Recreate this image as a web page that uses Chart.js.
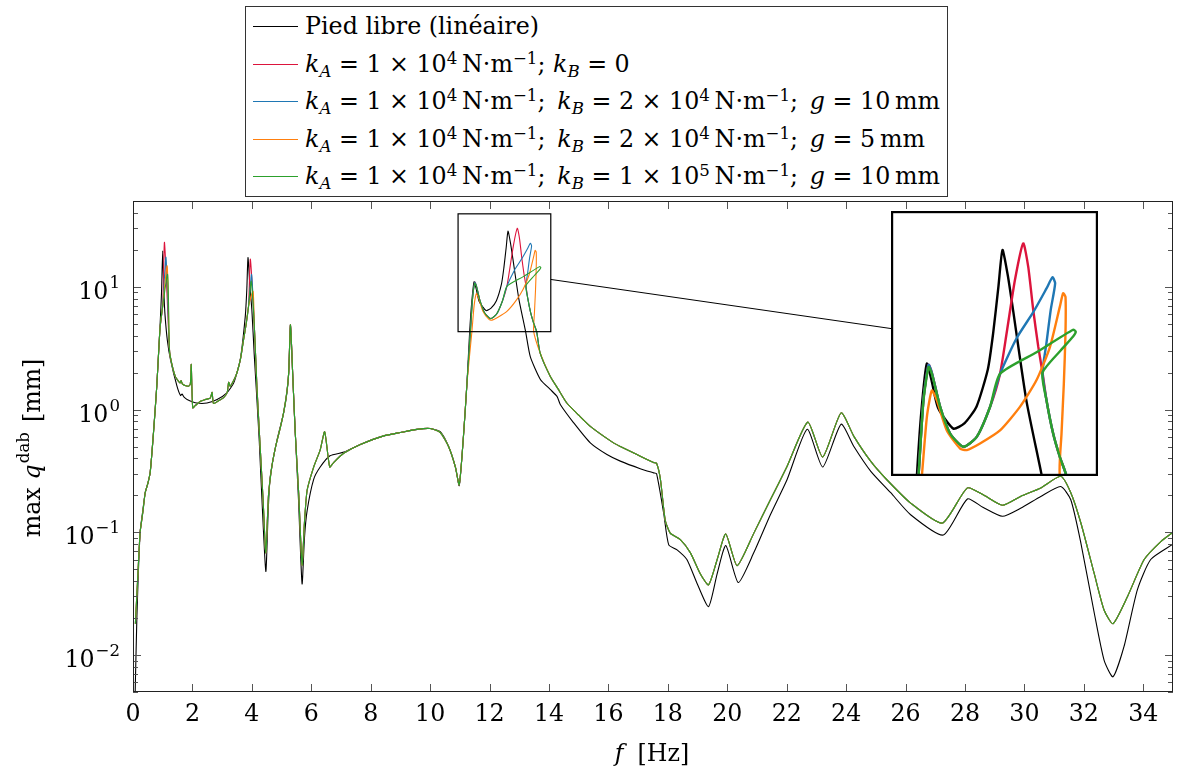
<!DOCTYPE html>
<html>
<head>
<meta charset="utf-8">
<script src="https://cdn.jsdelivr.net/npm/chart.js@4.4.1/dist/chart.umd.min.js"></script>
<style>
html, body { margin: 0; padding: 0; background: #fff; }
#wrap { position: relative; width: 1178px; height: 774px; overflow: hidden; }
#main { position: absolute; left: 0; top: 0; }
#inset { position: absolute; }
#legend {
    position: absolute; left: 245px; top: 6px; width: 703px; height: 191px;
    box-sizing: border-box; border: 1px solid #333; background: #fff;
    font-family: "DejaVu Serif", serif; font-size: 22px; color: #000;
}
#legend .row { position: absolute; left: 0; height: 37px; line-height: 37px; white-space: nowrap; }
#legend .swatch { position: absolute; left: 7px; top: 18px; width: 45px; height: 1px; }
#legend .txt { position: absolute; left: 59px; top: 0; }
#legend sub { font-size: 0.7em; vertical-align: -0.3em; line-height: 0; }
#legend sup { font-size: 0.7em; vertical-align: 0.5em; line-height: 0; }
</style>
</head>
<body>
<div id="wrap">
    <canvas id="main" width="1178" height="774"></canvas>
    <canvas id="inset"></canvas>
    <div id="legend"></div>
</div>
<script>
// Axis ticks
const xTicks = [0, 2, 4, 6, 8, 10, 12, 14, 16, 18, 20, 22, 24, 26, 28, 30, 32, 34];
const yDecades = [-2, -1, 0, 1];

// Free foot (linear) response
const freqLin = [0.06, 0.13, 0.24, 0.33, 0.41, 0.50, 0.58, 0.69, 0.80, 0.91,
    0.96, 1.00, 1.04, 1.08, 1.16, 1.26, 1.48, 1.60, 1.65, 1.72,
    1.82, 2.15, 2.49, 2.83, 3.16, 3.39, 3.61, 3.78, 3.83, 3.87,
    3.93, 4.00, 4.08, 4.17, 4.25, 4.34, 4.47, 4.55, 4.62, 4.85,
    5.07, 5.18, 5.24, 5.30, 5.38, 5.46, 5.57, 5.69, 5.77, 5.86,
    6.08, 6.30, 6.63, 7.10, 7.65, 8.44, 9.00, 9.56, 10.00, 10.34,
    10.62, 10.85, 10.98, 11.13, 11.24, 11.33, 11.40, 11.48, 11.55, 11.65,
    11.88, 12.05, 12.23, 12.40, 12.48, 12.56, 12.62, 12.70, 12.78, 12.98,
    13.21, 13.37, 13.71, 14.04, 14.27, 14.38, 14.83, 15.39, 15.95, 16.40,
    17.07, 17.52, 17.62, 17.86, 18.03, 18.31, 18.64, 18.98, 19.37, 19.66,
    19.95, 20.37, 20.89, 21.45, 22.01, 22.69, 23.21, 23.83, 24.26, 24.83,
    25.50, 26.17, 27.27, 28.08, 28.60, 29.26, 29.87, 30.55, 31.22, 31.56,
    31.90, 32.35, 32.68, 32.98, 33.35, 33.80, 34.25, 35.00];
const ampLin = [0.0035, 0.020, 0.10, 0.15, 0.21, 0.25, 0.31, 0.65, 1.55, 4.8,
    9.0, 19.6, 9.0, 5.8, 3.6, 2.56, 1.55, 1.30, 1.34, 1.26,
    1.21, 1.13, 1.13, 1.21, 1.37, 1.65, 2.56, 5.8, 9.5, 17.3,
    10.5, 6.5, 2.8, 1.21, 0.55, 0.185, 0.048, 0.15, 0.286, 0.57,
    0.94, 1.37, 2.0, 4.9, 1.8, 0.65, 0.184, 0.038, 0.09, 0.15,
    0.27, 0.34, 0.42, 0.45, 0.52, 0.61, 0.65, 0.69, 0.70, 0.66,
    0.50, 0.34, 0.24, 0.65, 1.65, 4.3, 7.5, 11.0, 9.6, 7.6,
    6.4, 6.7, 7.7, 10.5, 14.2, 21.0, 28.4, 23.0, 17.2, 8.1,
    4.35, 2.7, 1.76, 1.46, 1.28, 1.10, 0.78, 0.535, 0.43, 0.38,
    0.33, 0.305, 0.30, 0.143, 0.079, 0.072, 0.06, 0.0385, 0.0248, 0.046,
    0.078, 0.039, 0.068, 0.139, 0.268, 0.69, 0.34, 0.76, 0.50, 0.314,
    0.21, 0.139, 0.095, 0.187, 0.16, 0.135, 0.157, 0.196, 0.236, 0.184,
    0.0817, 0.022, 0.0091, 0.00665, 0.0117, 0.034, 0.06, 0.08];

// Nonlinear cases: shared curve below the 12-14 Hz loop...
const baseLowF = [0.08, 0.16, 0.24, 0.33, 0.41, 0.50, 0.58, 0.69, 0.80, 0.91,
    1.00, 1.22, 1.255, 1.42, 1.58, 1.62, 1.66, 1.75, 1.87, 1.93,
    1.96, 2.01, 2.10, 2.27, 2.45, 2.60, 2.66, 2.71, 2.88, 3.05,
    3.17, 3.22, 3.27, 3.40, 3.50, 3.62, 3.72, 3.81, 3.89, 4.08,
    4.17, 4.27, 4.38, 4.47, 4.56, 4.67, 4.80, 4.95, 5.07, 5.18,
    5.24, 5.30, 5.38, 5.46, 5.58, 5.69, 5.77, 5.86, 6.08, 6.30,
    6.45, 6.62, 6.75, 7.09, 7.65, 8.44, 9.00, 9.56, 10.00, 10.34,
    10.62, 10.85, 10.98, 11.13, 11.24];
const baseLowA = [0.018, 0.043, 0.10, 0.145, 0.21, 0.25, 0.31, 0.65, 1.55, 4.6,
    7.0, 3.3, 2.7, 1.87, 1.65, 1.72, 1.62, 1.57, 1.55, 1.62,
    2.33, 1.03, 1.08, 1.17, 1.21, 1.24, 1.38, 1.12, 1.18, 1.25,
    1.38, 1.67, 1.55, 1.75, 2.0, 2.6, 3.7, 5.0, 7.0, 5.0,
    1.55, 0.55, 0.18, 0.068, 0.20, 0.34, 0.50, 0.70, 0.95, 1.4,
    2.0, 4.9, 1.8, 0.65, 0.2, 0.054, 0.12, 0.22, 0.34, 0.47,
    0.66, 0.34, 0.37, 0.44, 0.52, 0.61, 0.65, 0.69, 0.70, 0.65,
    0.50, 0.34, 0.244, 0.65, 1.65];
// ...and above it
const baseHighF = [13.70, 14.04, 14.30, 14.60, 15.00, 15.39, 16.17, 16.40, 16.96, 17.52,
    17.62, 17.75, 17.91, 18.08, 18.42, 18.76, 19.09, 19.37, 19.66, 19.95,
    20.33, 20.89, 21.45, 22.01, 22.71, 23.21, 23.83, 24.26, 24.83, 25.37,
    26.17, 27.24, 28.08, 28.64, 29.26, 29.87, 30.55, 31.22, 31.56, 31.90,
    32.35, 32.68, 32.98, 33.47, 34.03, 34.59, 35.00];
const baseHighA = [2.9, 1.87, 1.48, 1.13, 0.90, 0.73, 0.535, 0.50, 0.43, 0.37,
    0.365, 0.27, 0.126, 0.0986, 0.087, 0.068, 0.046, 0.0373, 0.06, 0.097,
    0.0535, 0.098, 0.184, 0.344, 0.79, 0.41, 0.94, 0.605, 0.378, 0.268,
    0.173, 0.119, 0.23, 0.20, 0.166, 0.196, 0.23, 0.286, 0.21, 0.119,
    0.046, 0.0233, 0.018, 0.030, 0.06, 0.084, 0.10];

// Peaks near 1 Hz and 4 Hz for each nonlinear case
const peakRedF = [1.06, 3.95],     peakRedA = [23.0, 16.8];
const peakBlueF = [1.11, 3.99],    peakBlueA = [17.4, 12.6];
const peakOrangeF = [1.15, 4.04],  peakOrangeA = [14.8, 9.2];
const peakGreenF = [1.165, 3.98],  peakGreenA = [12.6, 11.1];

// 11.3 - 13.6 Hz branches (in traversal order)
const loopRedF = [11.355, 11.43, 11.506, 11.556, 11.681, 11.831, 12.032, 12.232, 12.433, 12.583,
    12.683, 12.808, 12.933, 13.008, 13.084, 13.159, 13.224, 13.284, 13.384, 13.485, 13.585];
const loopRedA = [4.31, 8.2, 10.9, 10.2, 7.67, 6.14, 5.50, 5.97, 7.67, 10.1,
    14.2, 22.1, 30.0, 24.7, 17.2, 12.7, 10.2, 8.1, 6.14, 5.05, 4.31];
const loopBlueF = [11.355, 11.43, 11.506, 11.556, 11.681, 11.831, 12.032, 12.232, 12.433, 12.583,
    12.833, 13.084, 13.284, 13.374, 13.414, 13.347, 13.282, 13.224, 13.284, 13.384, 13.485, 13.585];
const loopBlueA = [4.31, 8.2, 10.9, 10.2, 7.67, 6.14, 5.50, 5.97, 7.67, 10.1,
    13.6, 16.9, 20.6, 22.6, 21.5, 17.2, 13.0, 10.2, 8.1, 6.14, 5.05, 4.31];
const loopOrangeF = [11.405, 11.481, 11.556, 11.631, 11.781, 11.982, 12.082, 12.282, 12.583, 12.883,
    13.134, 13.334, 13.485, 13.535, 13.570, 13.570, 13.545, 13.510, 13.485];
const loopOrangeA = [4.31, 7.06, 8.8, 8.1, 6.3, 5.42, 5.35, 5.65, 6.3, 7.67,
    9.6, 12.6, 17.7, 19.8, 19.2, 14.2, 9.3, 6.14, 4.31];
const loopGreenF = [11.355, 11.43, 11.506, 11.556, 11.681, 11.831, 12.032, 12.232, 12.433, 12.583,
    13.134, 13.685, 13.725, 13.685, 13.50, 13.224, 13.284, 13.384, 13.485, 13.585];
const loopGreenA = [4.31, 8.1, 10.7, 10.1, 7.67, 6.14, 5.50, 5.97, 7.67, 10.1,
    12.1, 14.6, 14.35, 13.8, 12.3, 10.2, 8.1, 6.14, 5.05, 4.31];

const seriesColors = ['#000000', '#dc143c', '#1f77b4', '#ff7f0e', '#2ca02c'];
const seriesLabels = [
    'Pied libre (linéaire)',
    '<i>k</i><sub><i>A</i></sub> = 1 × 10<sup>4</sup>&#8201;N·m<sup>−1</sup>; <i>k</i><sub><i>B</i></sub> = 0',
    '<i>k</i><sub><i>A</i></sub> = 1 × 10<sup>4</sup>&#8201;N·m<sup>−1</sup>;&ensp;<i>k</i><sub><i>B</i></sub> = 2 × 10<sup>4</sup>&#8201;N·m<sup>−1</sup>;&ensp;<i>g</i> = 10&#8201;mm',
    '<i>k</i><sub><i>A</i></sub> = 1 × 10<sup>4</sup>&#8201;N·m<sup>−1</sup>;&ensp;<i>k</i><sub><i>B</i></sub> = 2 × 10<sup>4</sup>&#8201;N·m<sup>−1</sup>;&ensp;<i>g</i> = 5&#8201;mm',
    '<i>k</i><sub><i>A</i></sub> = 1 × 10<sup>4</sup>&#8201;N·m<sup>−1</sup>;&ensp;<i>k</i><sub><i>B</i></sub> = 1 × 10<sup>5</sup>&#8201;N·m<sup>−1</sup>;&ensp;<i>g</i> = 10&#8201;mm'
];

// Zoomed region and where its magnified copy sits
const spyRange = { xMin: 10.94, xMax: 14.06, yMin: 4.31, yMax: 39.3 };
const insetBox = { left: 891, top: 211, width: 207, height: 265 };

const SERIF = '"DejaVu Serif", serif';
let FS = 22;   // set from the fitted legend size

const pts = (fs, as) => fs.map((f, i) => ({ x: f, y: as[i] }));

const nlSeries = (pF, pA, lF, lA) => {
    const low = pts(baseLowF, baseLowA).concat(pts(pF, pA)).sort((p, q) => p.x - q.x);
    return low.concat(pts(lF, lA), pts(baseHighF, baseHighA));
};

const buildDatasets = (width) => {
    const data = [
        pts(freqLin, ampLin),
        nlSeries(peakRedF, peakRedA, loopRedF, loopRedA),
        nlSeries(peakBlueF, peakBlueA, loopBlueF, loopBlueA),
        nlSeries(peakOrangeF, peakOrangeA, loopOrangeF, loopOrangeA),
        nlSeries(peakGreenF, peakGreenA, loopGreenF, loopGreenA)
    ];
    return data.map((d, i) => ({
        label: seriesLabels[i],
        data: d,
        showLine: true,
        borderColor: seriesColors[i],
        borderWidth: width,
        pointRadius: 0,
        tension: 0.2,
        fill: false,
        clip: 0,
        order: 5 - i
    }));
};

const baseOptions = (xr, yr, pad) => ({
    responsive: false,
    animation: false,
    devicePixelRatio: 1,
    events: [],
    layout: { padding: pad },
    plugins: { legend: { display: false }, tooltip: { enabled: false } },
    scales: {
        x: { type: 'linear', min: xr[0], max: xr[1], display: false },
        y: { type: 'logarithmic', min: yr[0], max: yr[1], display: false }
    }
});

// Draw a run of pieces: [text, font, dy] or a number (gap in px)
const drawRuns = (ctx, runs, x, y, align) => {
    let w = 0;
    runs.forEach(r => {
        if (typeof r === 'number') { w += r; return; }
        ctx.font = r[1]; w += ctx.measureText(r[0]).width;
    });
    let cx = align === 'center' ? x - w / 2 : (align === 'right' ? x - w : x);
    ctx.textAlign = 'left';
    runs.forEach(r => {
        if (typeof r === 'number') { cx += r; return; }
        ctx.font = r[1];
        ctx.fillText(r[0], cx, y + (r[2] || 0));
        cx += ctx.measureText(r[0]).width;
    });
};

// Frame, inward ticks, labels, spy box and connector
const axisDecor = {
    id: 'axisDecor',
    afterDraw(chart) {
        const { ctx, chartArea: a, scales: { x, y } } = chart;
        const reg = FS.toFixed(1) + 'px ' + SERIF;
        const small = (FS * 0.7).toFixed(1) + 'px ' + SERIF;
        const ital = 'italic ' + reg;
        const up = -Math.round(FS * 0.45);
        ctx.save();

        // spy box
        const sx0 = x.getPixelForValue(spyRange.xMin), sx1 = x.getPixelForValue(spyRange.xMax);
        const sy0 = y.getPixelForValue(spyRange.yMax), sy1 = y.getPixelForValue(spyRange.yMin);
        ctx.strokeStyle = '#000';
        ctx.lineWidth = 1.2;
        ctx.strokeRect(sx0, sy0, sx1 - sx0, sy1 - sy0);

        // connector between centres, from spy edge to inset edge
        const c0x = (sx0 + sx1) / 2, c0y = (sy0 + sy1) / 2;
        const c1x = insetBox.left + insetBox.width / 2, c1y = insetBox.top + insetBox.height / 2;
        const yAt = px => c0y + (c1y - c0y) * (px - c0x) / (c1x - c0x);
        ctx.lineWidth = 1;
        ctx.beginPath();
        ctx.moveTo(sx1, yAt(sx1));
        ctx.lineTo(insetBox.left, yAt(insetBox.left));
        ctx.stroke();

        // ticks
        ctx.strokeStyle = '#555';
        ctx.lineWidth = 1;
        ctx.beginPath();
        xTicks.forEach(v => {
            const px = Math.round(x.getPixelForValue(v)) + 0.5;
            ctx.moveTo(px, a.bottom); ctx.lineTo(px, a.bottom - 8);
            ctx.moveTo(px, a.top); ctx.lineTo(px, a.top + 8);
        });
        for (let d = -3; d <= 1; d++) {
            for (let m = 1; m <= 9; m++) {
                const v = m * Math.pow(10, d);
                if (v < y.min || v > y.max) continue;
                const py = Math.round(y.getPixelForValue(v)) + 0.5;
                const len = m === 1 ? 8 : 5;
                ctx.moveTo(a.left, py); ctx.lineTo(a.left + len, py);
                ctx.moveTo(a.right, py); ctx.lineTo(a.right - len, py);
            }
        }
        ctx.stroke();

        // frame
        ctx.strokeStyle = '#222';
        ctx.strokeRect(a.left + 0.5, a.top + 0.5, a.right - a.left - 1, a.bottom - a.top - 1);

        // tick labels
        ctx.fillStyle = '#000';
        ctx.textBaseline = 'alphabetic';
        ctx.font = reg;
        ctx.textAlign = 'center';
        xTicks.forEach(v => ctx.fillText(String(v), x.getPixelForValue(v), 721));
        yDecades.forEach(d => {
            const py = y.getPixelForValue(Math.pow(10, d));
            const exp = d < 0 ? '\u2212' + Math.abs(d) : String(d);
            drawRuns(ctx, [['10', reg, 0], 1, [exp, small, up]], 120, py + 12, 'right');
        });

        // axis titles
        drawRuns(ctx, [['f', ital, 0], 14, ['[Hz]', reg, 0]], 652, 761, 'center');
        ctx.translate(40, 448);
        ctx.rotate(-Math.PI / 2);
        drawRuns(ctx, [['max', reg, 0], 8, ['q', ital, 0], 1, ['dab', small, up], 10, ['[mm]', reg, 0]], 0, 0, 'center');
        ctx.restore();
    }
};

const insetDecor = {
    id: 'insetDecor',
    beforeDraw(chart) {
        const { ctx, width, height } = chart;
        ctx.save();
        ctx.fillStyle = '#fff';
        ctx.fillRect(0, 0, width, height);
        ctx.restore();
    },
    afterDraw(chart) {
        const { ctx, width, height } = chart;
        ctx.save();
        ctx.strokeStyle = '#000';
        ctx.lineWidth = 2.2;
        ctx.strokeRect(1.1, 1.1, width - 2.2, height - 2.2);
        ctx.restore();
    }
};

// HTML legend (keeps sub/superscripts as real text); returns fitted font size
const buildLegend = () => {
    const box = document.getElementById('legend');
    const txts = [];
    seriesLabels.forEach((lab, i) => {
        const row = document.createElement('div');
        row.className = 'row';
        row.style.top = Math.round(1 + i * 37.6) + 'px';
        row.innerHTML = '<span class="swatch" style="background:' + seriesColors[i] + '"></span>' +
            '<span class="txt">' + lab + '</span>';
        box.appendChild(row);
        txts.push(row.querySelector('.txt'));
    });
    // widest entry spans about 635 px in the reference
    const w = txts[2].getBoundingClientRect().width;
    const size = w > 0 ? 22 * 635 / w : 22;
    box.style.fontSize = size.toFixed(2) + 'px';
    return size;
};

document.addEventListener('DOMContentLoaded', () => {
    FS = Math.min(24, buildLegend());

    new Chart(document.getElementById('main').getContext('2d'), {
        type: 'scatter',
        data: { datasets: buildDatasets(1.1) },
        options: baseOptions([0, 35], [0.005, 50], { left: 133, right: 5, top: 201, bottom: 82 }),
        plugins: [axisDecor]
    });

    const ic = document.getElementById('inset');
    ic.width = insetBox.width;
    ic.height = insetBox.height;
    ic.style.left = insetBox.left + 'px';
    ic.style.top = insetBox.top + 'px';
    new Chart(ic.getContext('2d'), {
        type: 'scatter',
        data: { datasets: buildDatasets(2.4) },
        options: baseOptions([spyRange.xMin, spyRange.xMax], [spyRange.yMin, spyRange.yMax], 0),
        plugins: [insetDecor]
    });
});
</script>
</body>
</html>
